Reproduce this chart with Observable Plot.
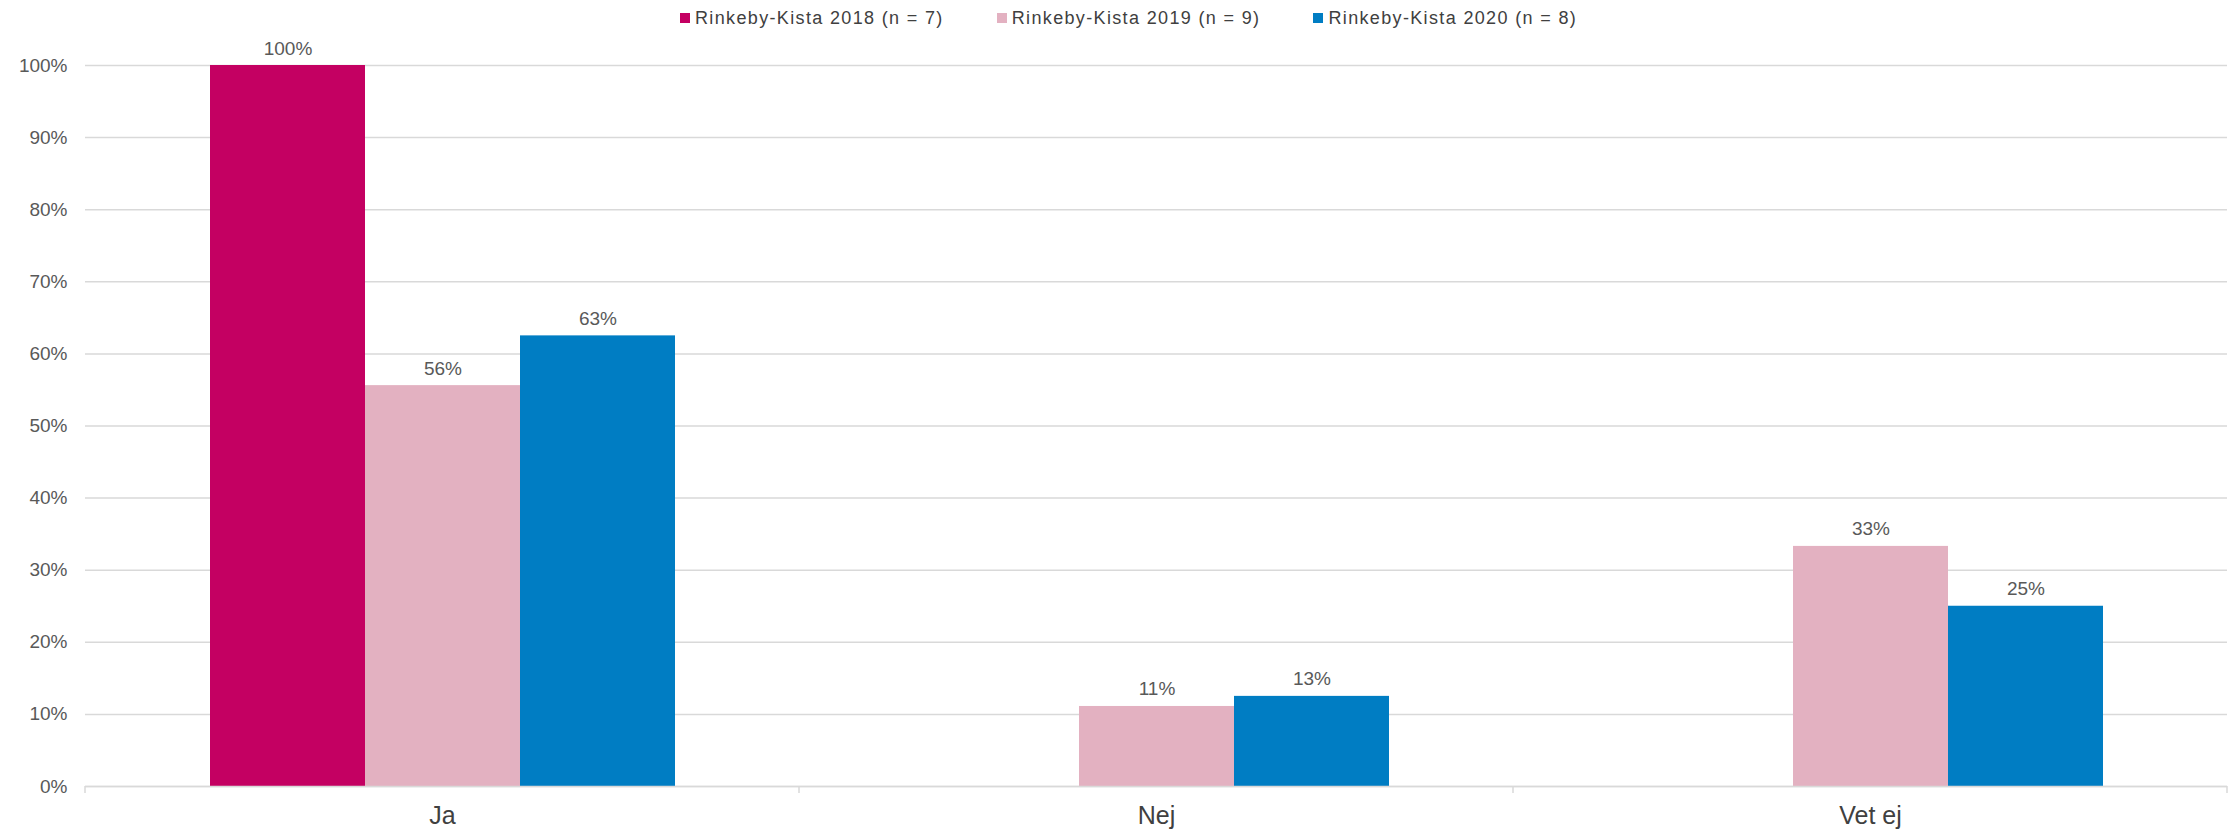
<!DOCTYPE html>
<html><head><meta charset="utf-8">
<script src="https://cdn.jsdelivr.net/npm/d3@7"></script>
<script src="https://cdn.jsdelivr.net/npm/@observablehq/plot@0.6"></script>
<style>
body{margin:0;background:#fff;font-family:"Liberation Sans",Arial,sans-serif;}
#legend{height:36px;display:flex;align-items:center;padding-left:680px;gap:53px;}
.item{display:flex;align-items:center;font-size:18px;letter-spacing:1.35px;color:#404040;white-space:nowrap}
.sw{width:10px;height:10px;margin-right:5px;display:inline-block}
</style></head><body>
<div id="legend"></div><div id="chart"></div>
<script>
const categories = ["Ja", "Nej", "Vet ej"];
const series = ["Rinkeby-Kista 2018 (n = 7)", "Rinkeby-Kista 2019 (n = 9)", "Rinkeby-Kista 2020 (n = 8)"];
const values2018 = [100, 0, 0];
const values2019 = [55.6, 11.1, 33.3];
const values2020 = [62.5, 12.5, 25.0];
const colors = ["#C40062", "#E3B1C1", "#007DC3"];
const yTicks = [0, 10, 20, 30, 40, 50, 60, 70, 80, 90, 100];

const allValues = [values2018, values2019, values2020];
const data = categories.flatMap((c, i) => series.map((s, j) => ({category: c, series: s, value: allValues[j][i]})));

const legend = document.getElementById("legend");
series.forEach((s, j) => {
  const it = document.createElement("div");
  it.className = "item";
  const sw = document.createElement("span");
  sw.className = "sw";
  sw.style.background = colors[j];
  it.appendChild(sw);
  it.appendChild(document.createTextNode(s));
  legend.appendChild(it);
});

const plot = Plot.plot({
  width: 2234, height: 793,
  marginTop: 29, marginBottom: 43, marginLeft: 84, marginRight: 6,
  style: {fontFamily: "'Liberation Sans', Arial, sans-serif", background: "#fff"},
  fx: {domain: categories, padding: 0, label: null},
  x: {domain: series, paddingInner: 0, paddingOuter: 0.79, axis: null},
  y: {domain: [0, 100], label: null},
  color: {domain: series, range: colors},
  marks: [
    Plot.gridY(yTicks, {stroke: "#d9d9d9", strokeOpacity: 1, strokeWidth: 1.5}),
    Plot.axisY(yTicks, {tickSize: 0, tickPadding: 18, fontSize: 19, fill: "#595959", tickFormat: d => d + "%", label: null, style: {letterSpacing: "0.5px"}}),
    Plot.axisFx({anchor: "bottom", tickSize: 0, tickPadding: 20, fontSize: 25, fill: "#404040", label: null, style: {letterSpacing: "0.8px"}}),
    Plot.barY(data, {fx: "category", x: "series", y: "value", fill: "series"}),
    Plot.ruleY([0], {stroke: "#d9d9d9", strokeWidth: 1.5}),
    Plot.text(data.filter(d => d.value > 0), {fx: "category", x: "series", y: "value", text: d => Math.round(d.value) + "%", dy: -11, lineAnchor: "bottom", fontSize: 19, fill: "#595959", style: {letterSpacing: "0.5px"}})
  ]
});
document.getElementById("chart").appendChild(plot);

// boundary ticks below the baseline, positioned with the fx and y scales
const fx = plot.scale("fx"), y = plot.scale("y");
const edges = categories.map(c => fx.apply(c)).concat([fx.apply(categories[categories.length - 1]) + fx.bandwidth]);
const y0 = y.apply(0);
d3.select(plot).append("g").selectAll("line").data(edges).join("line")
  .attr("x1", d => d).attr("x2", d => d).attr("y1", y0).attr("y2", y0 + 7)
  .attr("stroke", "#d9d9d9").attr("stroke-width", 1.5);
</script>
</body></html>
